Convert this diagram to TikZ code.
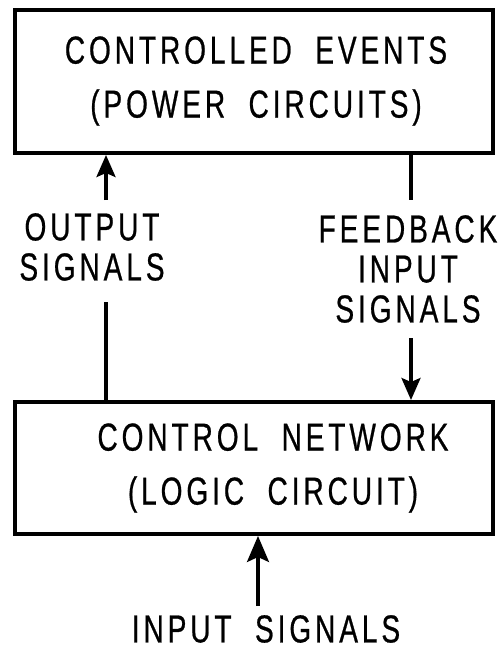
\documentclass[tikz,border=0pt]{standalone}
\usepackage{fontspec}
\setmainfont{Liberation Sans}[FakeStretch=0.72, LetterSpace=10, WordSpace=2.0, FakeBold=0.6]
\usetikzlibrary{arrows.meta}

\begin{document}
\begin{tikzpicture}[x=1pt, y=1pt,
    blockbox/.style={draw, line width=4pt, minimum width=478pt, inner sep=0pt},
    boxtext/.style={align=center, inner sep=0pt, font=\fontsize{39}{54}\selectfont},
    sigtext/.style={align=center, inner sep=0pt, font=\fontsize{39}{40}\selectfont},
    wire/.style={line width=3.2pt},
    arr/.style={wire, -{Stealth[length=22pt, width=19pt, inset=4pt]}}
  ]
  \useasboundingbox (0,0) rectangle (499,-651);

  % the two blocks
  \node[blockbox, minimum height=143pt] (events) at (254,-81.5) {};
  \node[boxtext] (eventstext) at (256,-81) {CONTROLLED EVENTS\\(POWER CIRCUITS)};

  \node[blockbox, minimum height=132pt] (network) at (254,-468) {};
  \node[boxtext] (networktext) at (273,-468) {CONTROL NETWORK\\(LOGIC CIRCUIT)};

  % signal labels
  \node[sigtext] (outlbl) at (92,-247) {OUTPUT\\SIGNALS};
  \node[sigtext] (fblbl) at (408,-269) {FEEDBACK\\INPUT\\SIGNALS};
  \node[sigtext] (inlbl) at (266,-629) {INPUT SIGNALS};

  % free ends of the broken signal lines
  \coordinate (outlow) at (106,-302);
  \coordinate (outhigh) at (106,-200);
  \coordinate (fbhigh) at (411,-200);
  \coordinate (fblow) at (411,-338);
  \coordinate (intail) at (258,-606);

  % output signals: network -> events
  \draw[wire] (network.north -| outlow) -- (outlow);
  \draw[arr] (outhigh) -- (events.south -| outhigh);

  % feedback input signals: events -> network
  \draw[wire] (events.south -| fbhigh) -- (fbhigh);
  \draw[arr] (fblow) -- (network.north -| fblow);

  % input signals into the network
  \draw[arr, -{Stealth[length=26pt, width=22pt, inset=5pt]}] (intail) -- (network.south -| intail);
\end{tikzpicture}
\end{document}
